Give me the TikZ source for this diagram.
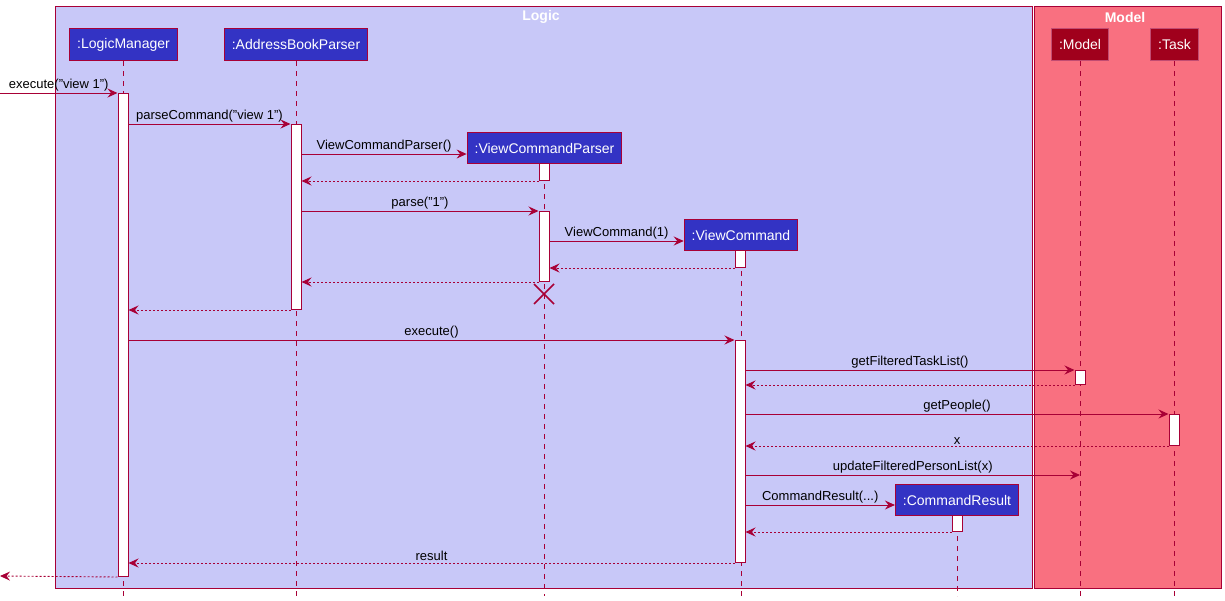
\documentclass[tikz,border=0pt]{standalone}
\usepackage{fontspec}
\setmainfont{Liberation Sans}
\usetikzlibrary{arrows.meta}
\definecolor{umlred}{RGB}{168,0,54}
\definecolor{partblue}{RGB}{51,51,196}
\definecolor{logicbg}{RGB}{200,200,248}
\definecolor{modelbg}{RGB}{249,112,128}
\definecolor{modelpart}{RGB}{160,0,28}
\tikzset{
  part/.style={draw=umlred,fill=partblue,text=white,line width=1pt,anchor=north,
    font=\fontsize{14}{16}\selectfont,inner xsep=7.5pt,inner ysep=0pt,minimum height=32pt},
  modpart/.style={part,fill=modelpart,draw=umlred!70!white},
  life/.style={umlred,line width=0.8pt,dash pattern=on 5pt off 5pt},
  act/.style={draw=umlred,fill=white,line width=1pt,anchor=north,minimum width=10pt,inner sep=0pt},
  msg/.style={umlred,line width=0.9pt,-{Stealth[length=10pt,width=9pt,inset=3.5pt]}},
  ret/.style={msg,dash pattern=on 2pt off 2pt},
  lbl/.style={text=black,font=\fontsize{13}{15}\selectfont,above,inner sep=1.5pt},
  frametitle/.style={text=white,font=\fontsize{14}{16}\selectfont\bfseries,inner sep=0pt}
}
\begin{document}
\begin{tikzpicture}[x=1pt,y=-1pt,line cap=butt]
\useasboundingbox (0,0) rectangle (1225,600);
% frames
\filldraw[fill=logicbg,draw=umlred,line width=1pt] (55,6) rectangle (1032,588);
\filldraw[fill=modelbg,draw=umlred,line width=1pt] (1034,6) rectangle (1221,588);
\node[frametitle] (logicT) at (541,17) {Logic};
\node[frametitle] (modelT) at (1125,17) {Model};
% participants
\node[part] (lmP) at (123.5,28) {:LogicManager};
\node[part] (abpP) at (296,28) {:AddressBookParser};
\node[part,minimum height=31pt] (vcpP) at (544.5,132) {:ViewCommandParser};
\node[part,minimum height=31pt] (vcP) at (741,219) {:ViewCommand};
\node[part,minimum height=31pt] (crP) at (957,484) {:CommandResult};
\node[modpart] (modelP) at (1080,28) {:Model};
\node[modpart] (taskP) at (1174.5,28) {:Task};
% lifelines
\foreach \p in {lmP,abpP,vcpP,vcP,crP,modelP,taskP}
  \draw[life] (\p.south) -- (\p.south |- 0,596);
% activations
\node[act,minimum height=483pt] (lmA) at (123,93) {};
\node[act,minimum height=185pt] (abpA) at (296,124) {};
\node[act,minimum height=17pt] (vcpA1) at (544,163) {};
\node[act,minimum height=70pt] (vcpA2) at (544,211) {};
\node[act,minimum height=17pt] (vcA1) at (740,250) {};
\node[act,minimum height=222pt] (vcA2) at (740,340) {};
\node[act,minimum height=14pt] (modelA) at (1080,370) {};
\node[act,minimum height=31pt] (taskA) at (1174,414) {};
\node[act,minimum height=16pt] (crA) at (957,515) {};
\coordinate (inL) at (0,93);
\coordinate (outL) at (0,576);
\coordinate (vcpEnd) at (544,294);
% messages
\draw[msg] (inL) -- (lmA.north west) node[lbl,midway] {execute("view 1")};
\draw[msg] (lmA.east |- abpA.north) -- (abpA.north west) node[lbl,midway] {parseCommand("view 1")};
\draw[msg] (abpA.east |- 0,154) -- (vcpP.west |- 0,154) node[lbl,midway] {ViewCommandParser()};
\draw[ret] (vcpA1.south west) -- (abpA.east |- vcpA1.south);
\draw[msg] (abpA.east |- vcpA2.north) -- (vcpA2.north west) node[lbl,midway] {parse("1")};
\draw[msg] (vcpA2.east |- 0,241) -- (vcP.west |- 0,241) node[lbl,midway] {ViewCommand(1)};
\draw[ret] (vcA1.south west) -- (vcpA2.east |- vcA1.south);
\draw[ret] (vcpA2.south west) -- (abpA.east |- vcpA2.south);
\draw[umlred,line width=1.5pt] ([shift={(-10,-10)}]vcpEnd) -- ([shift={(10,10)}]vcpEnd)
  ([shift={(-10,10)}]vcpEnd) -- ([shift={(10,-10)}]vcpEnd);
\draw[ret] (abpA.south west) -- (lmA.east |- abpA.south);
\draw[msg] (lmA.east |- vcA2.north) -- (vcA2.north west) node[lbl,midway] {execute()};
\draw[msg] (vcA2.east |- modelA.north) -- (modelA.north west) node[lbl,midway] {getFilteredTaskList()};
\draw[ret] (modelA.south west) -- (vcA2.east |- modelA.south);
\draw[msg] (vcA2.east |- taskA.north) -- (taskA.north west) node[lbl,midway] {getPeople()};
\draw[ret] (taskA.south west) -- (vcA2.east |- taskA.south) node[lbl,midway] {x};
\draw[msg] (vcA2.east |- 0,475) -- (modelP.south |- 0,475) node[lbl,midway] {updateFilteredPersonList(x)};
\draw[msg] (vcA2.east |- 0,505) -- (crP.west |- 0,505) node[lbl,midway] {CommandResult(...)};
\draw[ret] (crA.south west) -- (vcA2.east |- crA.south);
\draw[ret] (vcA2.south west) -- (lmA.east |- vcA2.south) node[lbl,midway] {result};
\draw[ret] (lmA.south west) -- (outL);
\end{tikzpicture}
\end{document}
